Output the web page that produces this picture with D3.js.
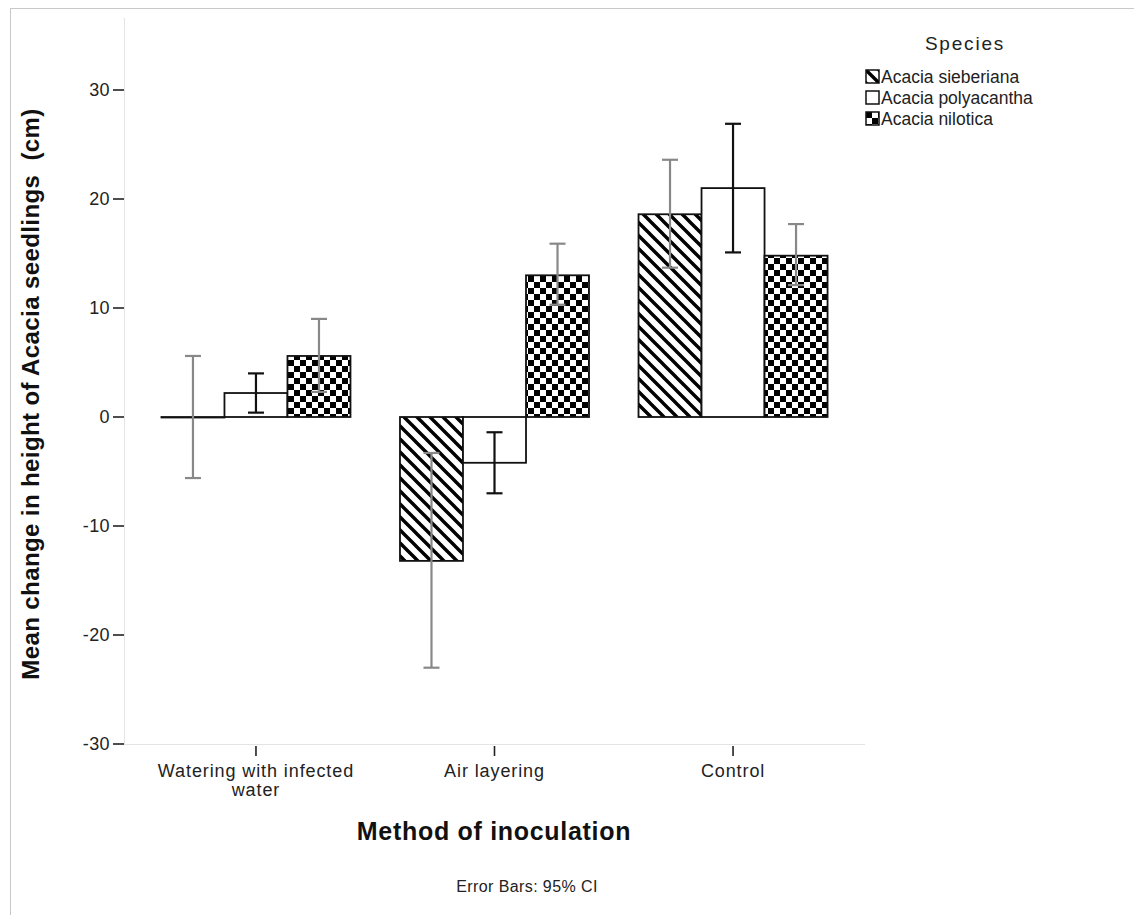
<!DOCTYPE html>
<html>
<head>
<meta charset="utf-8">
<script src="https://cdn.jsdelivr.net/npm/d3@7"></script>
<style>
  body { margin: 0; background: #fff; }
  text { font-family: "Liberation Sans", Arial, sans-serif; }
</style>
</head>
<body>
<svg id="chart"></svg>
<script>
const width = 1134;
const height = 915;

// data
const methods = ["Watering with infected water", "Air layering", "Control"];
const species = ["Acacia sieberiana", "Acacia polyacantha", "Acacia nilotica"];
const sieberianaMean = [0.0, -13.2, 18.6];
const sieberianaLow = [-5.6, -23.0, 13.7];
const sieberianaHigh = [5.6, -3.3, 23.6];
const polyacanthaMean = [2.2, -4.2, 21.0];
const polyacanthaLow = [0.4, -7.0, 15.1];
const polyacanthaHigh = [4.0, -1.4, 26.9];
const niloticaMean = [5.6, 13.0, 14.8];
const niloticaLow = [2.3, 10.3, 12.1];
const niloticaHigh = [9.0, 15.9, 17.7];
const yTicks = [-30, -20, -10, 0, 10, 20, 30];

const series = [
  { name: species[0], mean: sieberianaMean, low: sieberianaLow, high: sieberianaHigh, fill: "url(#hatch)", err: "#888" },
  { name: species[1], mean: polyacanthaMean, low: polyacanthaLow, high: polyacanthaHigh, fill: "#fff", err: "#111" },
  { name: species[2], mean: niloticaMean, low: niloticaLow, high: niloticaHigh, fill: "url(#checker)", err: "#888" }
];

const svg = d3.select("#chart")
    .attr("width", width)
    .attr("height", height);

// patterns
const defs = svg.append("defs");
const hp = 13;
const hatch = defs.append("pattern")
    .attr("id", "hatch")
    .attr("patternUnits", "userSpaceOnUse")
    .attr("width", hp).attr("height", hp);
hatch.append("rect").attr("width", hp).attr("height", hp).attr("fill", "#fff");
hatch.append("path")
    .attr("d", `M-3,-3 L${hp + 3},${hp + 3} M-3,${hp - 3} L3,${hp + 3} M${hp - 3},-3 L${hp + 3},3`)
    .attr("stroke", "#000").attr("stroke-width", 3.4);

const checker = defs.append("pattern")
    .attr("id", "checker")
    .attr("patternUnits", "userSpaceOnUse")
    .attr("width", 12).attr("height", 12);
checker.append("rect").attr("width", 12).attr("height", 12).attr("fill", "#fff");
checker.append("rect").attr("width", 6).attr("height", 6).attr("fill", "#000");
checker.append("rect").attr("x", 6).attr("y", 6).attr("width", 6).attr("height", 6).attr("fill", "#000");

// frame lines (left and top only)
svg.append("line").attr("x1", 10.5).attr("x2", 10.5).attr("y1", 8).attr("y2", height)
    .attr("stroke", "#c8c8c8");
svg.append("line").attr("x1", 10).attr("x2", width).attr("y1", 8.5).attr("y2", 8.5)
    .attr("stroke", "#c8c8c8");

const plotLeft = 124, plotRight = 865, plotTop = 18;

const y = d3.scaleLinear().domain([-30, 30]).range([744, 90]);

const x0 = d3.scaleBand()
    .domain(methods)
    .range([plotLeft, plotRight])
    .paddingInner(0.2075)
    .paddingOuter(0.157);

const x1 = d3.scaleBand()
    .domain(species)
    .range([0, x0.bandwidth()]);

// axis lines (light gray)
svg.append("line")
    .attr("x1", plotLeft + 0.5).attr("x2", plotLeft + 0.5)
    .attr("y1", plotTop).attr("y2", y(-30))
    .attr("stroke", "#e4e4e4");
svg.append("line")
    .attr("x1", plotLeft).attr("x2", plotRight)
    .attr("y1", y(-30) + 0.5).attr("y2", y(-30) + 0.5)
    .attr("stroke", "#e4e4e4");

// y ticks
const yt = svg.append("g").selectAll("g")
    .data(yTicks)
    .enter().append("g")
    .attr("transform", d => `translate(0,${y(d)})`);
yt.append("line")
    .attr("x1", plotLeft - 11).attr("x2", plotLeft)
    .attr("stroke", "#222").attr("stroke-width", 1.6);
yt.append("text")
    .attr("x", plotLeft - 14)
    .attr("dy", "0.36em")
    .attr("text-anchor", "end")
    .attr("font-size", 18)
    .attr("letter-spacing", 0.4)
    .attr("fill", "#222")
    .text(d => d);

// x ticks and labels
const xt = svg.append("g").selectAll("g")
    .data(methods)
    .enter().append("g")
    .attr("transform", d => `translate(${x0(d) + x0.bandwidth() / 2},${y(-30)})`);
xt.append("line")
    .attr("y1", 2).attr("y2", 12)
    .attr("stroke", "#222").attr("stroke-width", 1.6);
xt.append("text")
    .attr("text-anchor", "middle")
    .attr("font-size", 18)
    .attr("letter-spacing", 0.9)
    .attr("fill", "#222")
    .each(function(d) {
        const lines = d === "Watering with infected water" ? ["Watering with infected", "water"] : [d];
        d3.select(this).selectAll("tspan")
            .data(lines)
            .enter().append("tspan")
            .attr("x", 0)
            .attr("y", (l, i) => 33 + i * 19)
            .text(l => l);
    });

// bars
const groups = svg.append("g").selectAll("g")
    .data(series)
    .enter().append("g");

groups.selectAll("rect")
    .data(s => methods.map((m, i) => ({ m, s, v: s.mean[i] })))
    .enter().append("rect")
    .attr("x", d => x0(d.m) + x1(d.s.name))
    .attr("width", x1.bandwidth())
    .attr("y", d => y(Math.max(0, d.v)))
    .attr("height", d => Math.max(0.5, Math.abs(y(d.v) - y(0))))
    .attr("fill", d => d.s.fill)
    .attr("stroke", "#111")
    .attr("stroke-width", 1.8);

// error bars
const err = svg.append("g").selectAll("g")
    .data(series.flatMap(s => methods.map((m, i) => ({ m, s, lo: s.low[i], hi: s.high[i] }))))
    .enter().append("g")
    .attr("transform", d => `translate(${x0(d.m) + x1(d.s.name) + x1.bandwidth() / 2},0)`)
    .attr("stroke", d => d.s.err)
    .attr("stroke-width", 2.2);
err.append("line").attr("y1", d => y(d.lo)).attr("y2", d => y(d.hi));
err.append("line").attr("x1", -8).attr("x2", 8).attr("y1", d => y(d.lo)).attr("y2", d => y(d.lo));
err.append("line").attr("x1", -8).attr("x2", 8).attr("y1", d => y(d.hi)).attr("y2", d => y(d.hi));

// axis titles
svg.append("text")
    .attr("transform", `translate(39,${394}) rotate(-90)`)
    .attr("text-anchor", "middle")
    .attr("font-size", 24)
    .attr("font-weight", "bold")
    .attr("letter-spacing", 0.4)
    .attr("fill", "#111")
    .attr("xml:space", "preserve")
    .text("Mean change in height of Acacia seedlings  (cm)");

svg.append("text")
    .attr("x", 494).attr("y", 840)
    .attr("text-anchor", "middle")
    .attr("font-size", 25)
    .attr("font-weight", "bold")
    .attr("letter-spacing", 0.7)
    .attr("fill", "#111")
    .text("Method of inoculation");

svg.append("text")
    .attr("x", 527).attr("y", 892)
    .attr("text-anchor", "middle")
    .attr("font-size", 16)
    .attr("letter-spacing", 0.4)
    .attr("fill", "#222")
    .text("Error Bars: 95% CI");

// legend
svg.append("text")
    .attr("x", 965).attr("y", 50)
    .attr("text-anchor", "middle")
    .attr("font-size", 19)
    .attr("letter-spacing", 1.8)
    .attr("fill", "#222")
    .text("Species");

const leg = svg.append("g").selectAll("g")
    .data(series)
    .enter().append("g")
    .attr("transform", (d, i) => `translate(866,${70 + i * 21})`);
leg.append("rect")
    .attr("width", 13).attr("height", 13)
    .attr("fill", d => d.fill)
    .attr("stroke", "#111")
    .attr("stroke-width", 1.5);
leg.append("text")
    .attr("x", 15).attr("y", 13)
    .attr("font-size", 17.5)
    .attr("fill", "#222")
    .text(d => d.name);
</script>
</body>
</html>
